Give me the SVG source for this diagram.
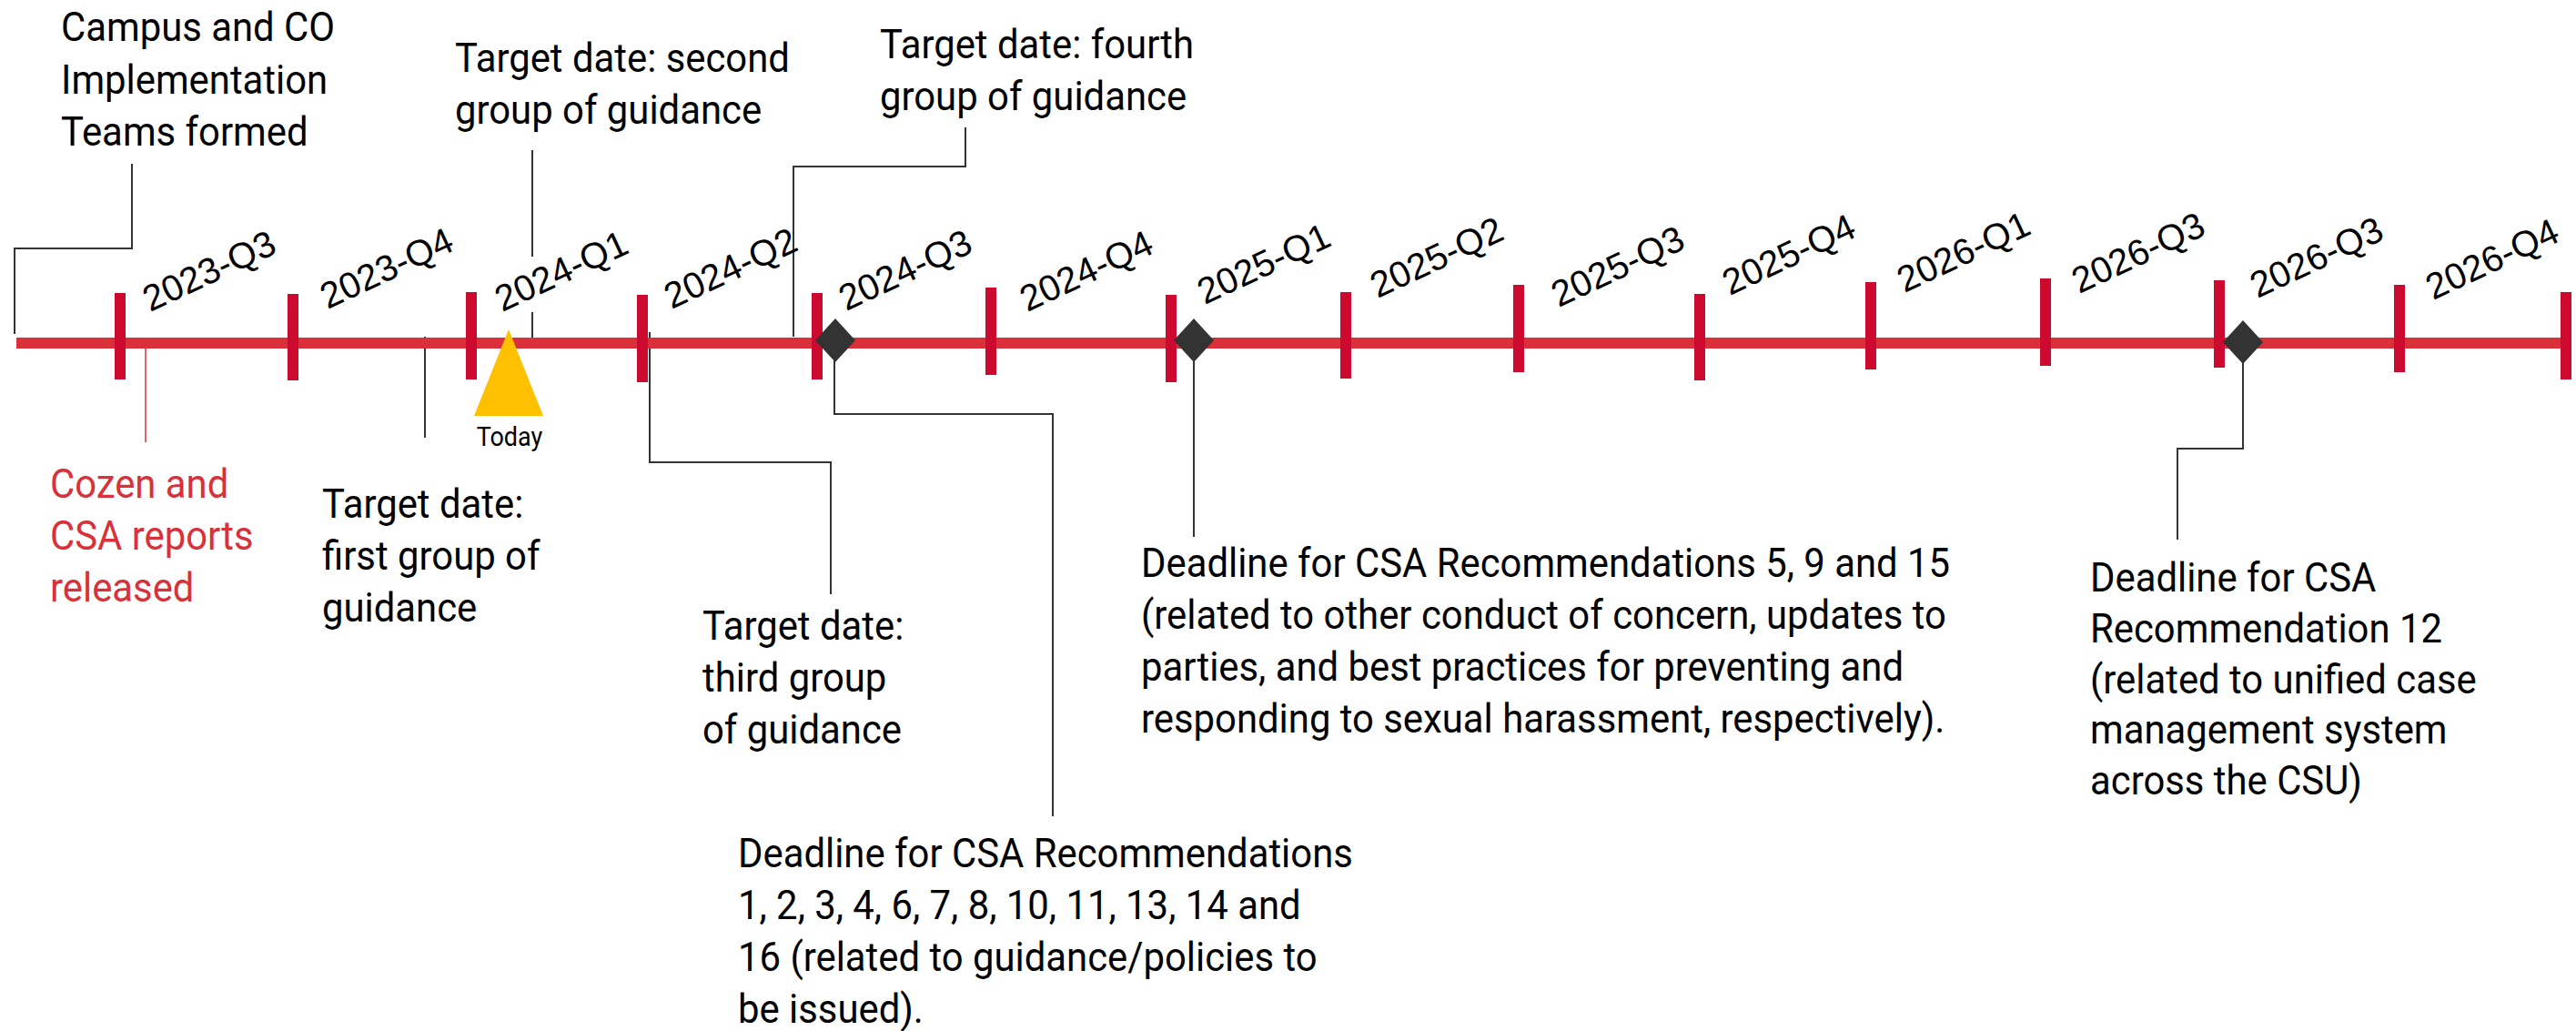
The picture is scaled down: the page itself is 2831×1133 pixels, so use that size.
<svg xmlns="http://www.w3.org/2000/svg" width="2831" height="1133" viewBox="0 0 2831 1133">
<style>
.t{font-family:Roboto,"Liberation Sans",sans-serif;font-size:45px;fill:#000}
.red{fill:#D9303A}
.q{font-family:"Liberation Sans",Arial,sans-serif;font-size:40px;fill:#000}
.tick{fill:#CC0A2F}
.c{fill:none;stroke:#333;stroke-width:2}
.cr{fill:none;stroke:#D9303A;stroke-width:1.5}
.dia{fill:#333}
</style>
<rect width="2831" height="1133" fill="#fff"/>
<g id="connectors">
<path class="c" d="M145,180 V273 H16 V367"/>
<path class="c" d="M585,165 V282 M585,343 V372"/>
<path class="c" d="M1061,140 V183 H872 V370"/>
<path class="cr" d="M160,383 V486"/>
<path class="c" d="M467,370 V481"/>
<path class="c" d="M714,365 V508 H913 V653"/>
<path class="c" d="M917,376 V455 H1157 V897"/>
<path class="c" d="M1312,376 V590"/>
<path class="c" d="M2465,376 V493 H2393 V593"/>
</g>
<g id="timeline">
<rect x="18" y="371" width="2804" height="12" fill="#D9303A"/>
<rect class="tick" x="126" y="322" width="12" height="95"/>
<rect class="tick" x="316" y="323" width="12" height="95"/>
<rect class="tick" x="512" y="321" width="12" height="96"/>
<rect class="tick" x="700" y="324" width="12" height="96"/>
<rect class="tick" x="892" y="322" width="12" height="95"/>
<rect class="tick" x="1083" y="316" width="12" height="96"/>
<rect class="tick" x="1281" y="324" width="12" height="96"/>
<rect class="tick" x="1473" y="321" width="12" height="95"/>
<rect class="tick" x="1663" y="313" width="12" height="96"/>
<rect class="tick" x="1862" y="323" width="12" height="95"/>
<rect class="tick" x="2050" y="310" width="12" height="96"/>
<rect class="tick" x="2242" y="306" width="12" height="96"/>
<rect class="tick" x="2433" y="308" width="12" height="96"/>
<rect class="tick" x="2631" y="313" width="12" height="96"/>
<rect class="tick" x="2814" y="321" width="12" height="96"/>
</g>
<g id="quarters">
<text class="q" transform="translate(165,343) rotate(-25)">2023-Q3</text>
<text class="q" transform="translate(360,340) rotate(-25)">2023-Q4</text>
<text class="q" transform="translate(552,343) rotate(-25)">2024-Q1</text>
<text class="q" transform="translate(738,340) rotate(-25)">2024-Q2</text>
<text class="q" transform="translate(930,342) rotate(-25)">2024-Q3</text>
<text class="q" transform="translate(1129,343) rotate(-25)">2024-Q4</text>
<text class="q" transform="translate(1324,335) rotate(-25)">2025-Q1</text>
<text class="q" transform="translate(1514,328) rotate(-25)">2025-Q2</text>
<text class="q" transform="translate(1713,338) rotate(-25)">2025-Q3</text>
<text class="q" transform="translate(1901,325) rotate(-25)">2025-Q4</text>
<text class="q" transform="translate(2093,322) rotate(-25)">2026-Q1</text>
<text class="q" transform="translate(2285,323) rotate(-25)">2026-Q3</text>
<text class="q" transform="translate(2481,328) rotate(-25)">2026-Q3</text>
<text class="q" transform="translate(2674,330) rotate(-25)">2026-Q4</text>
</g>
<g id="milestones">
<polygon class="dia" points="918,350 940,374 918,398 896,374"/>
<polygon class="dia" points="1312,350 1334,374 1312,398 1290,374"/>
<polygon class="dia" points="2465,352 2487,376 2465,400 2443,376"/>
</g>
<g id="today">
<polygon points="559,362 597,457 521,457" fill="#FFC000"/>
<g transform="translate(560,0) scale(0.93,1)"><text class="t" style="font-size:29px" text-anchor="middle" x="0" y="490">Today</text></g>
</g>
<g id="n-teams" transform="translate(67,0) scale(0.93,1)">
<text class="t"><tspan x="0" y="45">Campus and CO</tspan><tspan x="0" y="103">Implementation</tspan><tspan x="0" y="160">Teams formed</tspan></text>
</g>
<g id="n-second" transform="translate(500,0) scale(0.93,1)">
<text class="t"><tspan x="0" y="79">Target date: second</tspan><tspan x="0" y="136">group of guidance</tspan></text>
</g>
<g id="n-fourth" transform="translate(967,0) scale(0.93,1)">
<text class="t"><tspan x="0" y="64">Target date: fourth</tspan><tspan x="0" y="121">group of guidance</tspan></text>
</g>
<g id="n-reports" transform="translate(55,0) scale(0.93,1)">
<text class="t red"><tspan x="0" y="547">Cozen and</tspan><tspan x="0" y="604">CSA reports</tspan><tspan x="0" y="661">released</tspan></text>
</g>
<g id="n-first" transform="translate(354,0) scale(0.93,1)">
<text class="t"><tspan x="0" y="569">Target date:</tspan><tspan x="0" y="626">first group of</tspan><tspan x="0" y="683">guidance</tspan></text>
</g>
<g id="n-third" transform="translate(772,0) scale(0.93,1)">
<text class="t"><tspan x="0" y="703">Target date:</tspan><tspan x="0" y="760">third group</tspan><tspan x="0" y="817">of guidance</tspan></text>
</g>
<g id="n-deadline1" transform="translate(811,0) scale(0.93,1)">
<text class="t"><tspan x="0" y="953">Deadline for CSA Recommendations</tspan><tspan x="0" y="1010">1, 2, 3, 4, 6, 7, 8, 10, 11, 13, 14 and</tspan><tspan x="0" y="1067">16 (related to guidance/policies to</tspan><tspan x="0" y="1124">be issued).</tspan></text>
</g>
<g id="n-deadline2" transform="translate(1254,0) scale(0.93,1)">
<text class="t"><tspan x="0" y="634">Deadline for CSA Recommendations 5, 9 and 15</tspan><tspan x="0" y="691">(related to other conduct of concern, updates to</tspan><tspan x="0" y="748">parties, and best practices for preventing and</tspan><tspan x="0" y="805">responding to sexual harassment, respectively).</tspan></text>
</g>
<g id="n-deadline3" transform="translate(2297,0) scale(0.93,1)">
<text class="t"><tspan x="0" y="650">Deadline for CSA</tspan><tspan x="0" y="706">Recommendation 12</tspan><tspan x="0" y="762">(related to unified case</tspan><tspan x="0" y="817">management system</tspan><tspan x="0" y="873">across the CSU)</tspan></text>
</g>
</svg>
